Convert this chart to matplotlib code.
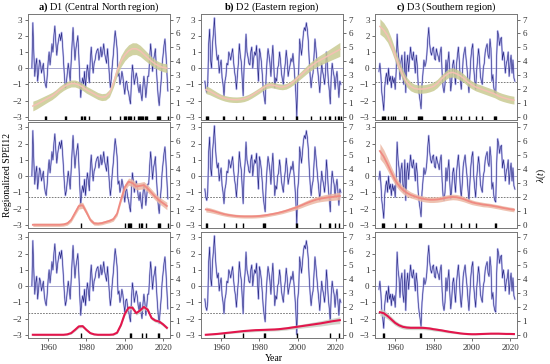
import numpy as np
import matplotlib
matplotlib.use("Agg")
import matplotlib.pyplot as plt

plt.rcParams['font.family'] = ['Liberation Serif', 'DejaVu Serif']
plt.rcParams['mathtext.fontset'] = 'custom'
plt.rcParams['mathtext.rm'] = 'Liberation Serif'
plt.rcParams['mathtext.it'] = 'Liberation Serif:italic'
plt.rcParams['mathtext.bf'] = 'Liberation Serif:bold'

# regionalized SPEI12, read every half year from 1951.5 to 2022.5
t_spei = 1951.5 + 0.5 * np.arange(143)
spei_d1 = [0.0, 2.8, 1.0, -0.5, 0.2, 0.6, -0.8, -0.2, 0.5, 0.3,
           -0.3, 0.0, 0.3, -0.6, -1.0, -1.2, -0.5, 0.4, 1.0, 0.2,
           0.8, 1.5, 1.0, 2.0, 2.6, 1.6, 0.8, 1.4, 1.8, 2.1,
           1.7, 2.2, 1.5, 0.5, -0.5, -1.2, -0.9, -0.3, 0.3, -0.2,
           -0.8, 0.4, 1.5, 2.5, 1.4, 0.5, 1.2, 1.6, 2.0, 0.8,
           -0.6, -1.8, -1.0, -0.6, -1.0, -0.2, -1.2, -0.4, 0.2, -0.3,
           -0.9, 0.5, 1.3, 0.4, -0.3, 0.3, 0.5, 0.9, 1.1, 1.2,
           0.5, 0.8, 1.3, 0.7, 1.0, 1.5, 0.9, 0.6, 0.3, 1.2,
           0.4, -0.5, -1.2, -0.6, 0.2, 0.8, 1.6, 2.3, 1.8, 1.2,
           -0.5, -0.3, -1.0, -0.7, -0.2, -0.5, -1.1, -1.6, -0.9, -0.8,
           -1.3, -1.5, -1.9, -2.2, -0.8, 0.2, -0.3, -1.0, -0.6, -0.3,
           -0.6, -1.2, -1.5, -1.0, -1.6, -2.0, -1.1, -0.5, -1.0, -1.8,
           -1.2, -0.5, -0.5, 0.6, 1.5, 0.8, -0.2, 0.5, 0.8, 1.2,
           0.0, -1.0, -1.8, -2.3, -1.5, -0.8, 0.2, 0.8, 1.4, 1.8,
           0.9, -0.2, -1.4]
spei_d2 = [-0.8, -1.3, -1.5, -1.0, 1.5, 2.4, 0.5, 0.0, 1.5, 2.2,
           3.1, 1.8, 1.0, 0.5, 0.8, -0.3, 0.2, 0.5, -0.6, -1.0,
           -1.7, -0.8, -0.5, 0.3, 0.2, 1.0, 0.8, 0.5, 0.9, 1.2,
           0.4, -0.2, -0.6, -1.3, -0.4, 0.3, 1.5, 0.8, 0.4, -0.7,
           -1.7, 0.1, 0.8, 2.1, 1.0, 0.7, 0.3, 0.2, 1.0, 1.3,
           0.0, 0.6, 1.0, 0.8, 1.4, 0.2, -0.8, 1.2, 0.9, 0.4,
           -0.4, -1.3, -1.8, -2.2, -0.5, 0.5, 1.2, 0.8, 0.3, -0.5,
           0.6, 1.4, 0.2, -1.2, -0.6, -0.8, 0.0, 0.2, 1.0, 0.5,
           -0.3, -0.7, -1.0, -0.2, 0.3, 1.1, 0.5, -0.5, -0.1, 0.2,
           0.6, 0.4, 0.9, 0.2, -0.6, -1.5, -3.0, -0.8, -0.2, 1.8,
           1.3, 0.8, 1.5, 2.2, 2.5, 2.3, 2.8, 2.4, 1.7, 0.5,
           -0.5, -1.2, -0.6, -0.3, 0.8, 1.8, 1.2, 0.5, -0.2, -0.8,
           -1.5, -0.6, 0.3, -0.2, -0.5, -1.0, -0.3, 1.0, 0.2, -0.8,
           -1.4, -2.2, -0.5, 0.3, -0.2, -0.5, -1.3, -0.6, -0.2, -1.0,
           -1.8, -0.8, -1.0]
spei_d3 = [-0.2, 0.3, -0.4, -1.5, -2.0, -2.6, -1.2, -0.6, -0.3, -1.0,
           0.0, -0.8, -0.5, -1.2, -0.5, -0.9, -0.6, -1.3, -0.2, 2.1,
           1.0, 0.5, -0.7, 0.4, 0.8, -0.5, -1.0, 1.0, -1.5, 0.2,
           0.8, -0.2, 0.6, 1.3, 0.7, 0.5, 1.0, 0.4, -0.3, 0.8,
           0.2, -1.0, -1.6, -2.0, -2.5, -1.0, -0.3, 0.5, 0.1, 0.3,
           0.8, 1.8, 2.5, 1.5, 1.0, 0.8, 1.2, 1.3, 0.6, 0.5,
           1.2, 0.9, 0.7, 0.4, 1.0, 1.3, -0.3, -1.2, -1.5, -1.0,
           0.5, -0.3, 0.4, 1.0, -0.4, -1.4, -0.8, 0.2, 0.5, -0.3,
           -1.0, 0.2, 0.8, 1.3, 0.4, -0.7, -1.3, -0.5, 0.6, 1.0,
           1.3, 0.6, 0.0, -0.8, -1.5, -0.4, 0.6, 1.2, 1.5, 0.0,
           -0.7, -1.3, -0.2, 0.5, 1.2, 0.6, -0.5, -0.8, -1.0, 0.0,
           0.3, 1.0, 1.3, 1.5, 0.8, 0.6, 1.8, 1.2, -0.8, -0.4,
           -1.2, -1.5, -1.6, 0.8, 2.3, 2.0, 1.4, 1.8, 1.9, 0.5,
           1.0, 0.6, -0.3, 0.3, 0.5, 1.0, -0.5, 0.3, 0.8, -0.3,
           0.5, -0.6, -0.8]

regions = ['D1', 'D2', 'D3']
region_names = ['Central North region', 'Eastern region', 'Southern region']
letters = ['a)', 'b)', 'c)']
thresholds = [-0.84, -1.28, -1.64]

# estimated occurrence rate lambda(t), every 2 years 1952-2022
t_lam = 1952 + 2 * np.arange(36)
lam = {
    (0, 'D1'): [0.78, 0.90, 1.05, 1.20, 1.35, 1.50, 1.70, 1.95, 2.15, 2.30, 2.40, 2.40,
                2.30, 2.15, 1.95, 1.80, 1.65, 1.50, 1.42, 1.45, 1.70, 2.40, 3.30, 4.00,
                4.45, 4.75, 4.90, 4.90, 4.75, 4.50, 4.25, 4.00, 3.80, 3.65, 3.55, 3.50],
    (0, 'D2'): [1.96, 1.85, 1.70, 1.55, 1.42, 1.33, 1.27, 1.24, 1.23, 1.25, 1.30, 1.40,
                1.55, 1.72, 1.90, 2.10, 2.25, 2.30, 2.25, 2.18, 2.15, 2.20, 2.35, 2.55,
                2.80, 3.05, 3.30, 3.55, 3.75, 3.95, 4.10, 4.25, 4.40, 4.55, 4.70, 4.85],
    (0, 'D3'): [6.50, 6.25, 5.85, 5.20, 4.40, 3.65, 3.00, 2.50, 2.20, 2.05, 2.00, 2.00,
                2.03, 2.10, 2.20, 2.40, 2.70, 2.95, 3.15, 3.20, 3.10, 2.95, 2.75, 2.50,
                2.30, 2.15, 2.05, 1.95, 1.85, 1.75, 1.65, 1.50, 1.40, 1.32, 1.25, 1.20],
    (1, 'D1'): [0, 0, 0, 0, 0, 0, 0, 0, 0.02, 0.10, 0.35, 0.85,
                1.35, 1.40, 0.90, 0.35, 0.10, 0.08, 0.12, 0.20, 0.28, 0.40, 0.80, 1.80,
                2.70, 3.10, 3.00, 2.75, 2.80, 2.85, 2.60, 2.30, 2.00, 1.75, 1.55, 1.35],
    (1, 'D2'): [1.10, 1.05, 0.98, 0.90, 0.82, 0.75, 0.70, 0.66, 0.63, 0.61, 0.60, 0.60,
                0.60, 0.61, 0.63, 0.66, 0.70, 0.75, 0.80, 0.86, 0.93, 1.01, 1.10, 1.19,
                1.29, 1.40, 1.52, 1.63, 1.73, 1.82, 1.88, 1.93, 1.97, 2.00, 2.04, 2.07],
    (1, 'D3'): [5.30, 4.90, 4.35, 3.75, 3.20, 2.80, 2.50, 2.30, 2.15, 2.05, 1.95, 1.88,
                1.83, 1.80, 1.80, 1.82, 1.86, 1.92, 1.97, 2.00, 1.98, 1.92, 1.83, 1.72,
                1.62, 1.55, 1.50, 1.45, 1.42, 1.38, 1.33, 1.28, 1.22, 1.17, 1.12, 1.08],
    (2, 'D1'): [0, 0, 0, 0, 0, 0, 0, 0, 0, 0.03, 0.12, 0.35,
                0.60, 0.62, 0.35, 0.12, 0.03, 0, 0, 0, 0, 0.02, 0.15, 0.70,
                1.50, 1.95, 1.95, 1.55, 1.75, 2.00, 1.80, 1.20, 1.02, 0.95, 0.75, 0.50],
    (2, 'D2'): [0, 0.02, 0.04, 0.06, 0.09, 0.12, 0.15, 0.18, 0.21, 0.24, 0.27, 0.29,
                0.31, 0.33, 0.34, 0.35, 0.36, 0.37, 0.38, 0.40, 0.43, 0.46, 0.50, 0.54,
                0.58, 0.62, 0.66, 0.70, 0.74, 0.78, 0.82, 0.87, 0.92, 0.97, 1.01, 1.05],
    (2, 'D3'): [1.62, 1.55, 1.35, 1.10, 0.85, 0.68, 0.57, 0.52, 0.50, 0.50, 0.50, 0.50,
                0.48, 0.45, 0.40, 0.36, 0.32, 0.27, 0.22, 0.18, 0.14, 0.10, 0.07, 0.05,
                0.04, 0.04, 0.05, 0.06, 0.07, 0.08, 0.08, 0.08, 0.07, 0.06, 0.06, 0.05],
}
# half width of the confidence band
lam_hw = {
    (0, 'D1'): [0.35, 0.33, 0.31, 0.29, 0.27, 0.26, 0.25, 0.25, 0.25, 0.25, 0.25, 0.25,
                0.25, 0.25, 0.25, 0.25, 0.25, 0.25, 0.25, 0.25, 0.27, 0.30, 0.35, 0.40,
                0.42, 0.43, 0.43, 0.42, 0.40, 0.38, 0.35, 0.32, 0.30, 0.30, 0.30, 0.32],
    (0, 'D2'): [0.28, 0.26, 0.24, 0.22, 0.20, 0.20, 0.20, 0.20, 0.20, 0.20, 0.20, 0.20,
                0.20, 0.20, 0.20, 0.20, 0.20, 0.20, 0.20, 0.20, 0.20, 0.20, 0.21, 0.22,
                0.24, 0.26, 0.28, 0.30, 0.32, 0.34, 0.36, 0.38, 0.41, 0.44, 0.47, 0.50],
    (0, 'D3'): [0.55, 0.52, 0.49, 0.46, 0.43, 0.40, 0.37, 0.34, 0.32, 0.30, 0.30, 0.30,
                0.30, 0.30, 0.30, 0.30, 0.30, 0.30, 0.32, 0.33, 0.33, 0.32, 0.30, 0.29,
                0.28, 0.28, 0.28, 0.28, 0.28, 0.28, 0.28, 0.28, 0.28, 0.28, 0.28, 0.28],
    (1, 'D1'): [0.12, 0.12, 0.12, 0.12, 0.12, 0.12, 0.12, 0.12, 0.12, 0.13, 0.15, 0.18,
                0.22, 0.22, 0.18, 0.15, 0.13, 0.12, 0.12, 0.12, 0.13, 0.14, 0.16, 0.20,
                0.24, 0.26, 0.26, 0.25, 0.25, 0.26, 0.26, 0.25, 0.24, 0.24, 0.25, 0.27],
    (1, 'D2'): [0.18, 0.17, 0.16, 0.15, 0.14, 0.13, 0.13, 0.12, 0.12, 0.12, 0.12, 0.12,
                0.12, 0.12, 0.12, 0.12, 0.12, 0.12, 0.12, 0.12, 0.13, 0.13, 0.14, 0.15,
                0.16, 0.17, 0.18, 0.19, 0.20, 0.21, 0.22, 0.23, 0.24, 0.25, 0.26, 0.28],
    (1, 'D3'): [0.55, 0.50, 0.45, 0.40, 0.35, 0.30, 0.27, 0.25, 0.22, 0.20, 0.20, 0.20,
                0.20, 0.20, 0.20, 0.20, 0.20, 0.20, 0.20, 0.20, 0.20, 0.20, 0.19, 0.18,
                0.17, 0.16, 0.16, 0.16, 0.15, 0.15, 0.15, 0.15, 0.15, 0.15, 0.15, 0.15],
    (2, 'D1'): [0.06, 0.06, 0.06, 0.06, 0.06, 0.06, 0.06, 0.06, 0.06, 0.06, 0.07, 0.09,
                0.11, 0.11, 0.09, 0.07, 0.06, 0.06, 0.06, 0.06, 0.06, 0.06, 0.07, 0.10,
                0.13, 0.15, 0.15, 0.14, 0.14, 0.15, 0.15, 0.13, 0.12, 0.12, 0.12, 0.12],
    (2, 'D2'): [0.04, 0.04, 0.05, 0.05, 0.06, 0.06, 0.07, 0.07, 0.08, 0.08, 0.09, 0.09,
                0.10, 0.10, 0.10, 0.10, 0.10, 0.10, 0.10, 0.11, 0.11, 0.12, 0.12, 0.13,
                0.13, 0.14, 0.15, 0.16, 0.17, 0.18, 0.19, 0.20, 0.21, 0.22, 0.23, 0.25],
    (2, 'D3'): [0.25, 0.24, 0.22, 0.20, 0.18, 0.16, 0.15, 0.14, 0.13, 0.13, 0.13, 0.13,
                0.12, 0.12, 0.12, 0.11, 0.10, 0.10, 0.09, 0.08, 0.07, 0.06, 0.05, 0.05,
                0.05, 0.05, 0.05, 0.05, 0.05, 0.05, 0.05, 0.05, 0.05, 0.05, 0.05, 0.05],
}

spei = {'D1': np.array(spei_d1), 'D2': np.array(spei_d2), 'D3': np.array(spei_d3)}

band_col = ['#c9ca92', '#ecb8a4', '#c9cdc2']
line_col = ['#f5c0b4', '#f08a82', '#e3154c']
line_w = [1.1, 1.3, 1.5]

fig = plt.figure(figsize=(5.5, 3.64), dpi=100)
lefts = [0.051, 0.3655, 0.682]
bottoms = [0.670, 0.3736, 0.0714]
w, h = 0.258, 0.292
y_lo, y_hi = -3.2, 3.35
to_lam = lambda v: (v + 3) * 7 / 6

for r, thr in enumerate(thresholds):
    for c, reg in enumerate(regions):
        ax = fig.add_axes([lefts[c], bottoms[r], w, h])
        ax2 = ax.twinx()
        s = spei[reg]
        ax.axhline(0, color='#9a9ac8', lw=0.6)
        ax.axhline(thr, color='#666666', lw=0.6, ls=(0, (2, 1.5)))
        ax.plot(t_spei, s, color='#aaaaee', lw=1.4, alpha=0.7)
        ax.plot(t_spei, s, color='#2b2b85', lw=0.45)
        ev = t_spei[s < thr]
        ax.vlines(ev, y_lo, -2.92, color='black', lw=1.0)

        m = np.array(lam[(r, reg)])
        hw = np.array(lam_hw[(r, reg)])
        ax2.fill_between(t_lam, m - hw, m + hw, color=band_col[r], alpha=0.85, lw=0)
        ax2.plot(t_lam, m, color=line_col[r], lw=line_w[r])

        ax.set_xlim(1949.5, 2023.6)
        ax.set_ylim(y_lo, y_hi)
        ax2.set_ylim(to_lam(y_lo), to_lam(y_hi))
        ax.set_yticks(range(-3, 4))
        ax2.set_yticks(range(0, 8))
        ax.set_xticks([1960, 1980, 2000, 2020])
        for a in (ax, ax2):
            a.tick_params(labelsize=6.5, length=2.5, width=0.5, pad=1.5, colors='#333333')
            for sp in a.spines.values():
                sp.set_color('#777777')
                sp.set_linewidth(0.6)
        if r < 2:
            ax.tick_params(axis='x', length=0, labelbottom=False)
        if r == 0:
            ax.set_title(r'$\mathbf{' + letters[c] + '}$ ' + reg + ' (' + region_names[c] + ')',
                         fontsize=7.5, pad=2)

fig.text(0.013, 0.519, 'Regionalized SPEI12', rotation=90, ha='center', va='center', fontsize=7)
fig.text(0.985, 0.519, r'$\lambda(t)$', rotation=90, ha='center', va='center', fontsize=7)
fig.text(0.497, 0.016, 'Year', ha='center', va='center', fontsize=7)

fig.savefig('out.png', dpi=100)
